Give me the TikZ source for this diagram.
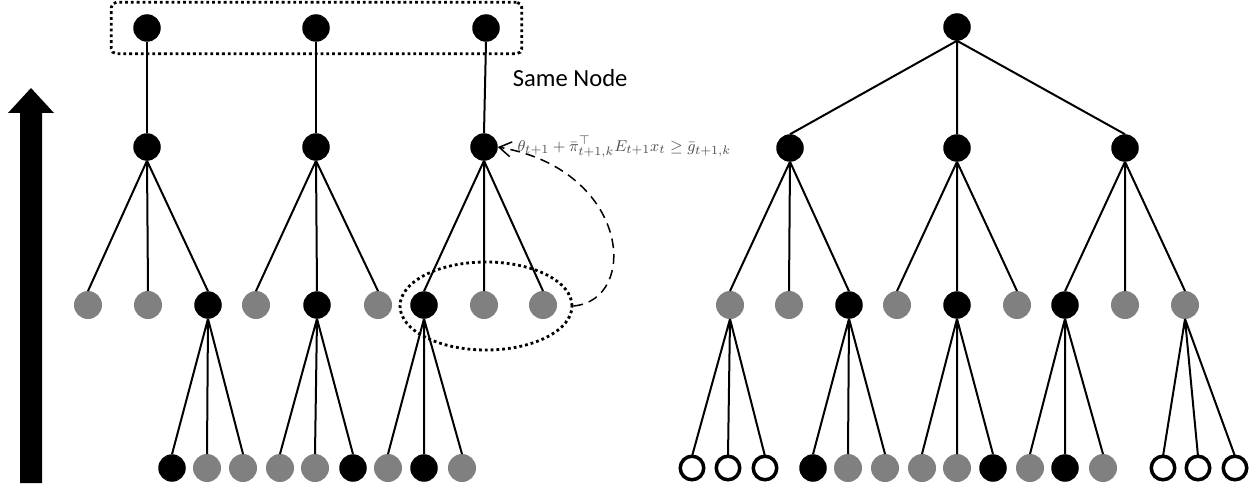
\documentclass[tikz,border=0pt]{standalone}
\usepackage{fontspec}
\newfontfamily\notefont{Carlito}
\usetikzlibrary{positioning}
\usetikzlibrary{arrows.meta}
\usetikzlibrary{shapes.geometric}
\usetikzlibrary{fit}

\tikzset{
	bnode/.style={circle,fill=black,minimum size=5.5mm,inner sep=0pt,outer sep=0pt},
	gnode/.style={circle,fill=black!50,minimum size=5.6mm,inner sep=0pt,outer sep=0pt},
	onode/.style={circle,draw=black,line width=0.7mm,fill=white,minimum size=4.7mm,inner sep=0pt,outer sep=0pt},
	dotline/.style={line width=1.6pt,dash pattern=on 1.6pt off 1.7pt},
}

\begin{document}
\begin{tikzpicture}[x=0.2mm,y=-0.2mm,line width=0.4mm]
	\useasboundingbox (0,0) rectangle (1260,490);

	% time arrow
	\fill (20,483) -- (20,113) -- (8,113) -- (31,88) -- (54,113) -- (42,113) -- (42,483) -- cycle;

	% left: copies of the same node
	\node [bnode] at (147,28) (l0_0) {};
	\node [bnode] at (316,28) (l0_1) {};
	\node [bnode] at (486,28) (l0_2) {};

	\node [bnode] at (147,147) (l1_0) {};
	\node [bnode] at (316,147) (l1_1) {};
	\node [bnode] at (484,147) (l1_2) {};

	\node [gnode] at (88,305) (l2_0) {};
	\node [gnode] at (148,305) (l2_1) {};
	\node [bnode] at (208,305) (l2_2) {};
	\node [gnode] at (256,305) (l2_3) {};
	\node [bnode] at (317,305) (l2_4) {};
	\node [gnode] at (378,305) (l2_5) {};
	\node [bnode] at (424,305) (l2_6) {};
	\node [gnode] at (484,305) (l2_7) {};
	\node [gnode] at (543,305) (l2_8) {};

	\node [bnode] at (172,468) (l3_0) {};
	\node [gnode] at (207,468) (l3_1) {};
	\node [gnode] at (243,468) (l3_2) {};
	\node [gnode] at (280,468) (l3_3) {};
	\node [gnode] at (315,468) (l3_4) {};
	\node [bnode] at (353,468) (l3_5) {};
	\node [gnode] at (388,468) (l3_6) {};
	\node [bnode] at (424,468) (l3_7) {};
	\node [gnode] at (462,468) (l3_8) {};

	\draw (l0_0.south) -- (l1_0.north);
	\draw (l0_1.south) -- (l1_1.north);
	\draw (l0_2.south) -- (l1_2.north);

	\draw (l1_0.south) -- (l2_0.north) (l1_0.south) -- (l2_1.north) (l1_0.south) -- (l2_2.north);
	\draw (l1_1.south) -- (l2_3.north) (l1_1.south) -- (l2_4.north) (l1_1.south) -- (l2_5.north);
	\draw (l1_2.south) -- (l2_6.north) (l1_2.south) -- (l2_7.north) (l1_2.south) -- (l2_8.north);

	\draw (l2_2.south) -- (l3_0.north) (l2_2.south) -- (l3_1.north) (l2_2.south) -- (l3_2.north);
	\draw (l2_4.south) -- (l3_3.north) (l2_4.south) -- (l3_4.north) (l2_4.south) -- (l3_5.north);
	\draw (l2_6.south) -- (l3_6.north) (l2_6.south) -- (l3_7.north) (l2_6.south) -- (l3_8.north);

	\node [draw,dotline,rounded corners=3pt,fit=(l0_0)(l0_2),inner xsep=4.4mm,inner ysep=2.4mm] (same) {};
	\node [anchor=west,font=\notefont\fontsize{14}{16}\selectfont] at (506,78) (same_txt) {Same Node};

	\node [draw,dotline,ellipse,minimum width=34.4mm,minimum height=17.6mm] at (486,306) (sel) {};
	\node [right=2.6mm of l1_2,text=black!70,font=\fontsize{9.5}{11}\selectfont] (cut) {$\theta_{t+1}+\bar{\pi}_{t+1,k}^{\top}E_{t+1}x_t\geq\bar{g}_{t+1,k}$};
	\draw [line width=0.3mm,dash pattern=on 5.5pt off 3.5pt,-{Straight Barb[length=2.4mm,width=3mm]}] (sel.east) .. controls (640,300) and (630,170) .. (l1_2.east);

	% right: full scenario tree
	\node [bnode] at (957,27) (r0) {};

	\node [bnode] at (790,148) (r1_0) {};
	\node [bnode] at (957,148) (r1_1) {};
	\node [bnode] at (1125,148) (r1_2) {};

	\node [gnode] at (730,305) (r2_0) {};
	\node [gnode] at (789,305) (r2_1) {};
	\node [bnode] at (849,305) (r2_2) {};
	\node [gnode] at (897,305) (r2_3) {};
	\node [bnode] at (957,305) (r2_4) {};
	\node [gnode] at (1017,305) (r2_5) {};
	\node [bnode] at (1065,305) (r2_6) {};
	\node [gnode] at (1125,305) (r2_7) {};
	\node [gnode] at (1185,305) (r2_8) {};

	\node [onode] at (692,468) (r3_0) {};
	\node [onode] at (728,468) (r3_1) {};
	\node [onode] at (765,468) (r3_2) {};
	\node [bnode] at (813,468) (r3_3) {};
	\node [gnode] at (848,468) (r3_4) {};
	\node [gnode] at (885,468) (r3_5) {};
	\node [gnode] at (922,468) (r3_6) {};
	\node [gnode] at (957,468) (r3_7) {};
	\node [bnode] at (993,468) (r3_8) {};
	\node [gnode] at (1030,468) (r3_9) {};
	\node [bnode] at (1065,468) (r3_10) {};
	\node [gnode] at (1103,468) (r3_11) {};
	\node [onode] at (1163,468) (r3_12) {};
	\node [onode] at (1198,468) (r3_13) {};
	\node [onode] at (1235,468) (r3_14) {};

	\draw (r0.south) -- (r1_0.north) (r0.south) -- (r1_1.north) (r0.south) -- (r1_2.north);

	\draw (r1_0.south) -- (r2_0.north) (r1_0.south) -- (r2_1.north) (r1_0.south) -- (r2_2.north);
	\draw (r1_1.south) -- (r2_3.north) (r1_1.south) -- (r2_4.north) (r1_1.south) -- (r2_5.north);
	\draw (r1_2.south) -- (r2_6.north) (r1_2.south) -- (r2_7.north) (r1_2.south) -- (r2_8.north);

	\draw (r2_0.south) -- (r3_0.north) (r2_0.south) -- (r3_1.north) (r2_0.south) -- (r3_2.north);
	\draw (r2_2.south) -- (r3_3.north) (r2_2.south) -- (r3_4.north) (r2_2.south) -- (r3_5.north);
	\draw (r2_4.south) -- (r3_6.north) (r2_4.south) -- (r3_7.north) (r2_4.south) -- (r3_8.north);
	\draw (r2_6.south) -- (r3_9.north) (r2_6.south) -- (r3_10.north) (r2_6.south) -- (r3_11.north);
	\draw (r2_8.south) -- (r3_12.north) (r2_8.south) -- (r3_13.north) (r2_8.south) -- (r3_14.north);
\end{tikzpicture}
\end{document}
